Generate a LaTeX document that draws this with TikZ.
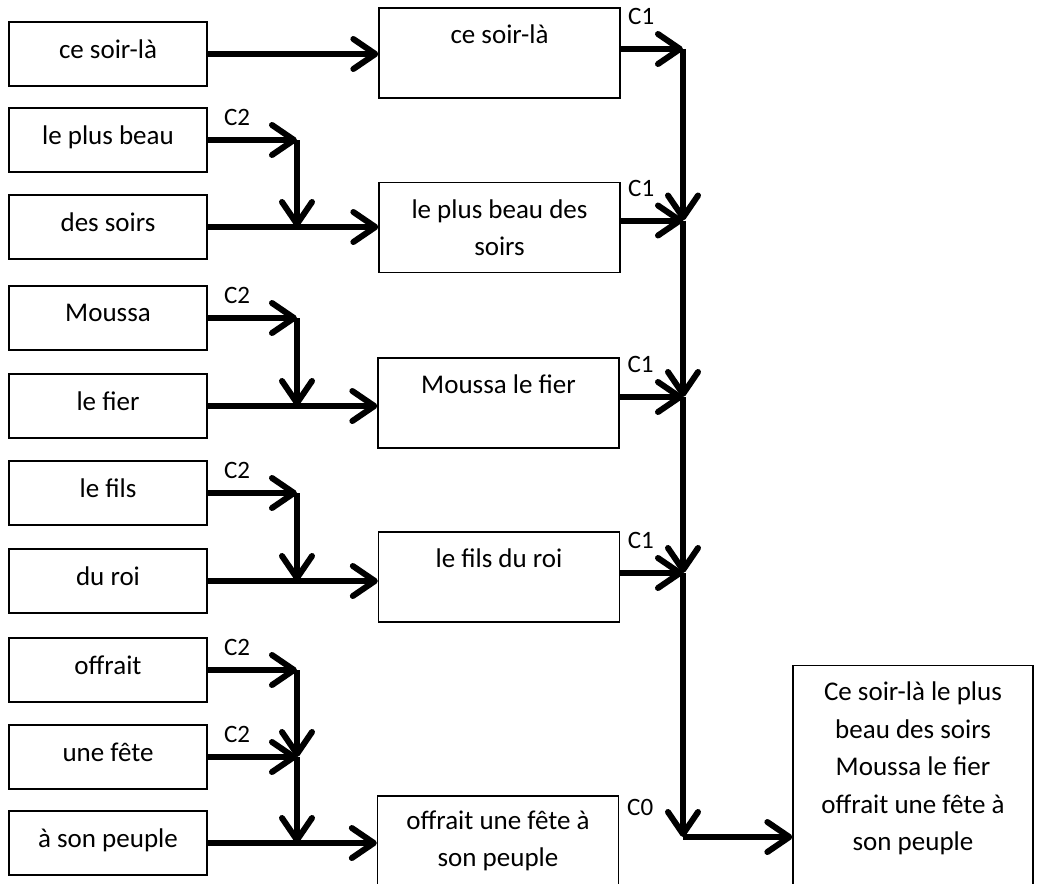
\documentclass[tikz,border=0pt]{standalone}
\usepackage{fontspec}
\setmainfont{Carlito}
\usetikzlibrary{arrows.meta,positioning,calc}
\definecolor{ink}{HTML}{000000}
\tikzset{
  >={Straight Barb[length=22pt,width=30pt,round]},
  every node/.style={font=\fontsize{27}{37.5}\selectfont,text=ink},
  wordbox/.style={draw=ink,line width=1.3pt,minimum width=198pt,minimum height=64pt,align=center,inner sep=0pt,text depth=10pt},
  phrasebox/.style={draw=ink,line width=1.3pt,minimum width=241pt,minimum height=90pt,align=center,inner sep=0pt},
  topbox/.style={phrasebox,text depth=38pt},
  sentbox/.style={draw=ink,line width=1.3pt,minimum width=240pt,minimum height=230pt,inner sep=0pt},
  senttext/.style={align=center,inner sep=0pt},
  link/.style={->,line width=6pt,draw=ink},
  rel/.style={inner sep=2pt,font=\fontsize{25}{25}\selectfont},
}

\begin{document}
\begin{tikzpicture}[x=1pt,y=-1pt]
\useasboundingbox (0,0) rectangle (1040,883);
\clip (0,0) rectangle (1040,883);

% left column: words
\node[wordbox] (w1) at (108,54) {ce soir-là};
\node[wordbox] (w2) at (108,140) {le plus beau};
\node[wordbox] (w3) at (108,227) {des soirs};
\node[wordbox] (w4) at (108,318) {Moussa};
\node[wordbox] (w5) at (108,406) {le fier};
\node[wordbox] (w6) at (108,493) {le fils};
\node[wordbox] (w7) at (108,581) {du roi};
\node[wordbox] (w8) at (108,670) {offrait};
\node[wordbox] (w9) at (108,757) {une fête};
\node[wordbox] (w10) at (108,843) {à son peuple};

% middle column: phrases
\node[topbox] (p1) at (499.5,53) {ce soir-là};
\node[phrasebox] (p2) at (499.5,227.5) {le plus beau des\\soirs};
\node[topbox] (p3) at (498.5,403) {Moussa le fier};
\node[topbox] (p4) at (499,577) {le fils du roi};
\node[phrasebox] (p5) at (498,841) {offrait une fête à\\son peuple};

% right: sentence
\node[sentbox,anchor=north] (s) at (913,665) {};
\node[senttext,below=17pt of s.north] (stext)
{Ce soir-là le plus\\beau des soirs\\Moussa le fier\\offrait une fête à\\son peuple};

% junction columns
\coordinate (stemx) at (297,0);
\coordinate (trunkx) at (683,0);

% C2 groups
\draw[link] (w1.east) -- (w1.east -| p1.west);

\draw[link] (w2.east) -- node[rel,above=9pt,pos=0.33] {C2} (w2.east -| stemx) coordinate (m2);
\draw[link] (m2) -- (w3.east -| stemx);
\draw[link] (w3.east) -- (w3.east -| p2.west);

\draw[link] (w4.east) -- node[rel,above=9pt,pos=0.33] {C2} (w4.east -| stemx) coordinate (m4);
\draw[link] (m4) -- (w5.east -| stemx);
\draw[link] (w5.east) -- (w5.east -| p3.west);

\draw[link] (w6.east) -- node[rel,above=9pt,pos=0.33] {C2} (w6.east -| stemx) coordinate (m6);
\draw[link] (m6) -- (w7.east -| stemx);
\draw[link] (w7.east) -- (w7.east -| p4.west);

\draw[link] (w8.east) -- node[rel,above=9pt,pos=0.33] {C2} (w8.east -| stemx) coordinate (m8);
\draw[link] (m8) -- (w9.east -| stemx);
\draw[link] (w9.east) -- node[rel,above=9pt,pos=0.33] {C2} (w9.east -| stemx) coordinate (m9);
\draw[link] (m9) -- (w10.east -| stemx);
\draw[link] (w10.east) -- (w10.east -| p5.west);

% C1 trunk
\coordinate (t1) at ([yshift=4pt]p1.east -| trunkx);
\coordinate (t2) at ([yshift=7pt]p2.east -| trunkx);
\coordinate (t3) at ([yshift=6pt]p3.east -| trunkx);
\coordinate (t4) at ([yshift=4pt]p4.east -| trunkx);
\coordinate (t5) at ([yshift=4pt]p5.east -| trunkx);
\draw[link] ([yshift=4pt]p1.east) -- node[rel,above=19pt,pos=0.33] {C1} (t1);
\draw[link] ([yshift=7pt]p2.east) -- node[rel,above=19pt,pos=0.33] {C1} (t2);
\draw[link] ([yshift=6pt]p3.east) -- node[rel,above=19pt,pos=0.33] {C1} (t3);
\draw[link] ([yshift=4pt]p4.east) -- node[rel,above=19pt,pos=0.33] {C1} (t4);
\draw[link] (t1) -- (t2);
\draw[link] (t2) -- (t3);
\draw[link] (t3) -- (t4);
\draw[link] (t4) -- (t5);
\draw[link] (t5) -- (t5 -| s.west);
\path ([yshift=4pt]p5.east) -- node[rel,above=19pt,pos=0.33] {C0} (t5);

\end{tikzpicture}
\end{document}
